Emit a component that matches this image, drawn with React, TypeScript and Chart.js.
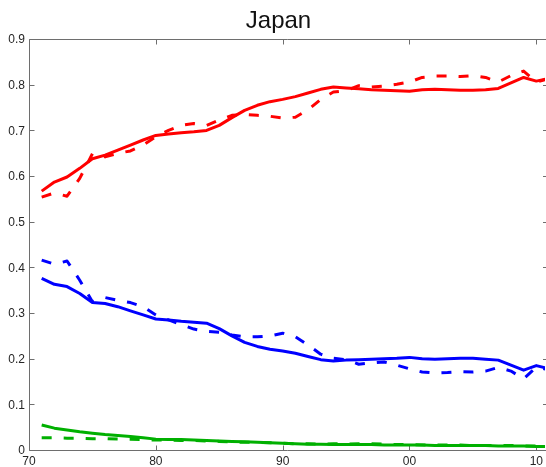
import React, { useEffect, useRef } from "react";
import { Chart, registerables } from "chart.js";

Chart.register(...registerables);

const TITLE = "Japan";

const years = [
  71, 72, 73, 74, 75, 76, 77, 78, 79, 80,
  81, 82, 83, 84, 85, 86, 87, 88, 89, 90,
  91, 92, 93, 94, 95, 96, 97, 98, 99, 100,
  101, 102, 103, 104, 105, 106, 107, 108, 109, 110, 111,
];

const redSolid = [
  0.569, 0.589, 0.6, 0.619, 0.64, 0.648, 0.659, 0.67, 0.681, 0.691,
  0.694, 0.697, 0.699, 0.702, 0.713, 0.73, 0.746, 0.757, 0.765, 0.77,
  0.776, 0.784, 0.792, 0.797, 0.795, 0.793, 0.791, 0.79, 0.789, 0.788,
  0.791, 0.792, 0.791, 0.79, 0.79, 0.791, 0.794, 0.806, 0.818, 0.81, 0.816,
];

const redDashed = [
  0.556, 0.565, 0.558, 0.597, 0.651, 0.644, 0.652, 0.657, 0.67, 0.688,
  0.702, 0.713, 0.717, 0.713, 0.725, 0.735, 0.737, 0.735, 0.733, 0.729,
  0.731, 0.747, 0.77, 0.786, 0.789, 0.8, 0.797, 0.799, 0.803, 0.808,
  0.818, 0.821, 0.821, 0.82, 0.822, 0.818, 0.808, 0.822, 0.832, 0.808, 0.815,
];

const blueSolid = [
  0.378, 0.365, 0.36, 0.345, 0.325, 0.323, 0.316, 0.307, 0.298, 0.289,
  0.287, 0.284, 0.282, 0.28, 0.268, 0.252, 0.238, 0.229, 0.223, 0.219,
  0.214, 0.207, 0.2, 0.197, 0.199, 0.2, 0.201, 0.202, 0.203, 0.205,
  0.202, 0.201, 0.202, 0.203, 0.203, 0.201, 0.199, 0.188, 0.177, 0.187, 0.18,
];

const blueDashed = [
  0.418, 0.409, 0.416, 0.374, 0.327, 0.336, 0.33, 0.325, 0.316, 0.298,
  0.287, 0.277, 0.267, 0.262, 0.26, 0.254, 0.25, 0.25, 0.252, 0.258,
  0.25, 0.232, 0.212, 0.203, 0.2, 0.19, 0.193, 0.195, 0.188, 0.18,
  0.173, 0.171, 0.172, 0.174, 0.173, 0.175, 0.183, 0.175, 0.158, 0.184, 0.178,
];

const greenSolid = [
  0.057, 0.05, 0.046, 0.042, 0.039, 0.036, 0.034, 0.032, 0.029, 0.026,
  0.025, 0.025, 0.024, 0.023, 0.022, 0.021, 0.02, 0.019, 0.018, 0.017,
  0.016, 0.015, 0.015, 0.014, 0.014, 0.014, 0.014, 0.013, 0.013, 0.013,
  0.013, 0.012, 0.012, 0.012, 0.012, 0.012, 0.011, 0.011, 0.011, 0.01, 0.01,
];

const greenDashed = [
  0.029, 0.029, 0.028, 0.028, 0.027, 0.027, 0.026, 0.026, 0.025, 0.024,
  0.024, 0.023, 0.023, 0.022, 0.021, 0.02, 0.019, 0.019, 0.018, 0.017,
  0.016, 0.016, 0.015, 0.016, 0.015, 0.016, 0.016, 0.015, 0.014, 0.014,
  0.013, 0.013, 0.013, 0.013, 0.012, 0.012, 0.012, 0.012, 0.011, 0.011, 0.011,
];

const xTickValues = [70, 80, 90, 100, 110];
const xTickLabels = ["70", "80", "90", "00", "10"];
const yTickValues = [0, 0.1, 0.2, 0.3, 0.4, 0.5, 0.6, 0.7, 0.8, 0.9];
const yTickLabels = ["0", "0.1", "0.2", "0.3", "0.4", "0.5", "0.6", "0.7", "0.8", "0.9"];

const X_MIN = 70;
const X_MAX = 110.68;
const Y_MIN = 0;
const Y_MAX = 0.9;

const RED = "#ff0000";
const BLUE = "#0000ff";
const GREEN = "#00b000";
const AXIS = "#6e6e6e";
const LABEL = "#262626";
const DASH = [10, 12];

function toPoints(vals: number[]) {
  return years.map((y, i) => ({ x: y, y: vals[i] }));
}

const boxPlugin = {
  id: "boxPlugin",
  beforeDatasetsDraw(chart: any) {
    const { ctx, chartArea } = chart;
    const xs = chart.scales.x;
    const ys = chart.scales.y;
    const l = Math.round(chartArea.left) + 0.5;
    const t = Math.round(chartArea.top) - 0.5;
    const b = Math.round(chartArea.bottom) - 0.5;
    const r = chart.width;
    ctx.save();
    ctx.strokeStyle = AXIS;
    ctx.lineWidth = 1;
    ctx.beginPath();
    ctx.moveTo(l, t);
    ctx.lineTo(r, t);
    ctx.moveTo(l, t);
    ctx.lineTo(l, b);
    ctx.lineTo(r, b);
    xTickValues.forEach((v) => {
      const px = Math.round(xs.getPixelForValue(v)) + 0.5;
      ctx.moveTo(px, b);
      ctx.lineTo(px, b - 5);
      ctx.moveTo(px, t);
      ctx.lineTo(px, t + 5);
    });
    yTickValues.forEach((v) => {
      const py = Math.round(ys.getPixelForValue(v)) - 0.5;
      ctx.moveTo(l, py);
      ctx.lineTo(l + 5, py);
      ctx.moveTo(r - 3, py);
      ctx.lineTo(r, py);
    });
    ctx.stroke();
    ctx.fillStyle = "#111111";
    ctx.font = "24px 'Liberation Sans', Arial, sans-serif";
    ctx.textAlign = "center";
    ctx.textBaseline = "alphabetic";
    ctx.fillText(TITLE, 278.5, 28);
    ctx.restore();
  },
};

export default function App() {
  const ref = useRef<HTMLCanvasElement | null>(null);

  useEffect(() => {
    if (!ref.current) return;
    const mk = (label: string, vals: number[], color: string, dashed: boolean) => ({
      label,
      data: toPoints(vals),
      borderColor: color,
      backgroundColor: color,
      borderWidth: 3,
      borderDash: dashed ? DASH : [],
      borderCapStyle: "butt" as const,
      borderJoinStyle: "round" as const,
      pointRadius: 0,
      tension: 0,
      fill: false,
    });
    const chart = new Chart(ref.current, {
      type: "line",
      data: {
        datasets: [
          mk("red dashed", redDashed, RED, true),
          mk("red solid", redSolid, RED, false),
          mk("blue dashed", blueDashed, BLUE, true),
          mk("blue solid", blueSolid, BLUE, false),
          mk("green dashed", greenDashed, GREEN, true),
          mk("green solid", greenSolid, GREEN, false),
        ],
      },
      options: {
        animation: false,
        responsive: false,
        maintainAspectRatio: false,
        devicePixelRatio: 1,
        layout: { padding: { top: 40, right: 0, left: 0, bottom: 0 } },
        plugins: {
          legend: { display: false },
          title: { display: false },
          tooltip: { enabled: false },
        },
        scales: {
          x: {
            type: "linear",
            min: X_MIN,
            max: X_MAX,
            grid: { display: false, drawTicks: false },
            border: { display: false },
            afterBuildTicks: (s: any) => {
              s.ticks = xTickValues.map((v) => ({ value: v }));
            },
            afterFit: (s: any) => {
              s.height = 16;
            },
            ticks: {
              autoSkip: false,
              maxRotation: 0,
              padding: 3,
              color: LABEL,
              font: { family: "'Liberation Sans', Arial, sans-serif", size: 12 },
              callback: (v: any) => {
                const i = xTickValues.indexOf(Number(v));
                return i >= 0 ? xTickLabels[i] : "";
              },
            },
          },
          y: {
            type: "linear",
            min: Y_MIN,
            max: Y_MAX,
            grid: { display: false, drawTicks: false },
            border: { display: false },
            afterBuildTicks: (s: any) => {
              s.ticks = yTickValues.map((v) => ({ value: v }));
            },
            afterFit: (s: any) => {
              s.width = 29;
            },
            ticks: {
              autoSkip: false,
              padding: 4,
              color: LABEL,
              font: { family: "'Liberation Sans', Arial, sans-serif", size: 12 },
              callback: (v: any) => {
                const i = yTickValues.findIndex((t) => Math.abs(t - Number(v)) < 1e-9);
                return i >= 0 ? yTickLabels[i] : "";
              },
            },
          },
        },
      },
      plugins: [boxPlugin],
    });
    return () => chart.destroy();
  }, []);

  return (
    <div style={{ position: "absolute", left: 0, top: 0, width: 546, height: 467, background: "#ffffff" }}>
      <canvas ref={ref} width={546} height={467} style={{ width: 546, height: 467, display: "block" }} />
    </div>
  );
}
